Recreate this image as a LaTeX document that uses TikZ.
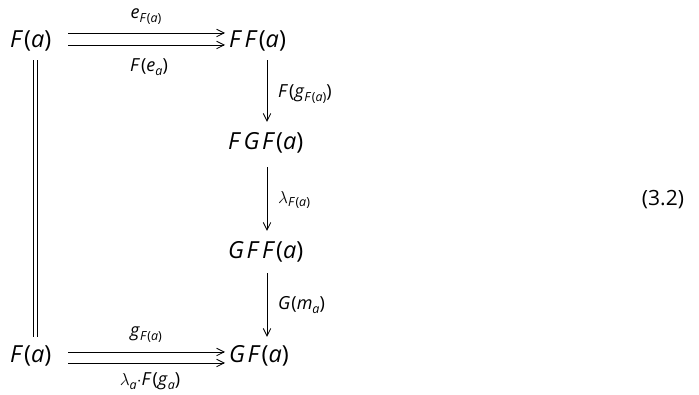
\documentclass[tikz,border=0pt]{standalone}
\usepackage{fontspec}
\setmainfont{Open Sans}
\usetikzlibrary{arrows.meta,calc}
\newcommand{\iv}[1]{\textit{#1}}
\newcommand{\lsub}[1]{\raisebox{-0.4ex}{\fontsize{12.5}{14}\selectfont #1}}
\newcommand{\kk}{\kern2.5pt}
\tikzset{
  obj/.style={inner sep=0pt, anchor=base west, font=\fontsize{23.5}{28}\selectfont, text height=16pt, text depth=5pt},
  lab/.style={inner sep=0pt, font=\fontsize{18}{21}\selectfont},
  arr/.style={line width=0.8pt, -{Straight Barb[length=7.5pt,width=7.5pt,line width=0.8pt]}},
  ln/.style={line width=0.8pt},
}
\begin{document}
\begin{tikzpicture}[x=1pt,y=1pt]
\useasboundingbox (0,0) rectangle (699,395);
\node[obj] (fa) at (10,347) {\iv{F}\kern1pt(\iv{a})};
\node[obj] (ffa) at (229,347) {\iv{F}\kk\iv{F}\kern1pt(\iv{a})};
\node[obj] (fgfa) at (228,245) {\iv{F}\kk\iv{G}\kk\iv{F}\kern1pt(\iv{a})};
\node[obj] (gffa) at (228,136) {\iv{G}\kk\iv{F}\kk\iv{F}\kern1pt(\iv{a})};
\node[obj] (gfa) at (229,32) {\iv{G}\kk\iv{F}\kern1pt(\iv{a})};
\node[obj] (fb) at (10,32) {\iv{F}\kern1pt(\iv{a})};
\node[inner sep=0pt, font=\fontsize{21}{24}\selectfont] (eq) at (663,195) {(3.2)};

% top double arrow
\draw[arr] ([shift={(58,9.5)}]fa.west) -- ([shift={(-4,9.5)}]ffa.west);
\draw[arr] ([shift={(58,-2.5)}]fa.west) -- ([shift={(-4,-2.5)}]ffa.west);
\node[lab] (l1) at (146,378) {\iv{e}\lsub{\iv{F}\kern0.5pt(\iv{a})}};
\node[lab] (l2) at (149,328) {\iv{F}\kern1pt(\iv{e}\lsub{\iv{a}})};

% bottom double arrow
\draw[arr] ([shift={(58,5.5)}]fb.west) -- ([shift={(-4,5.5)}]gfa.west);
\draw[arr] ([shift={(58,-5.5)}]fb.west) -- ([shift={(-4,-5.5)}]gfa.west);
\node[lab] (l3) at (146,60) {\iv{g}\lsub{\iv{F}\kern0.5pt(\iv{a})}};
\node[lab] (l4) at (150,13.5) {$\lambda$\lsub{\iv{a}}$\cdot$\iv{F}\kern1pt(\iv{g}\lsub{\iv{a}})};

% left equality
\draw[ln] ([shift={(23.5,-7)}]fa.south west) -- ([shift={(23.5,10)}]fb.north west);
\draw[ln] ([shift={(27,-7)}]fa.south west) -- ([shift={(27,10)}]fb.north west);

% vertical arrows
\draw[arr] ([shift={(38,-7)}]ffa.south west) -- ([shift={(39,12)}]fgfa.north west);
\node[lab, anchor=west] (l5) at (278,301) {\iv{F}\kern1pt(\iv{g}\lsub{\iv{F}\kern0.5pt(\iv{a})})};
\draw[arr] ([shift={(39,-12)}]fgfa.south west) -- ([shift={(39,12)}]gffa.north west);
\node[lab, anchor=west] (l6) at (278,195) {$\lambda$\lsub{\iv{F}\kern0.5pt(\iv{a})}};
\draw[arr] ([shift={(39,-9)}]gffa.south west) -- ([shift={(38,10)}]gfa.north west);
\node[lab, anchor=west] (l7) at (278,90) {\iv{G}\kern1pt(\iv{m}\lsub{\iv{a}})};
\end{tikzpicture}
\end{document}
